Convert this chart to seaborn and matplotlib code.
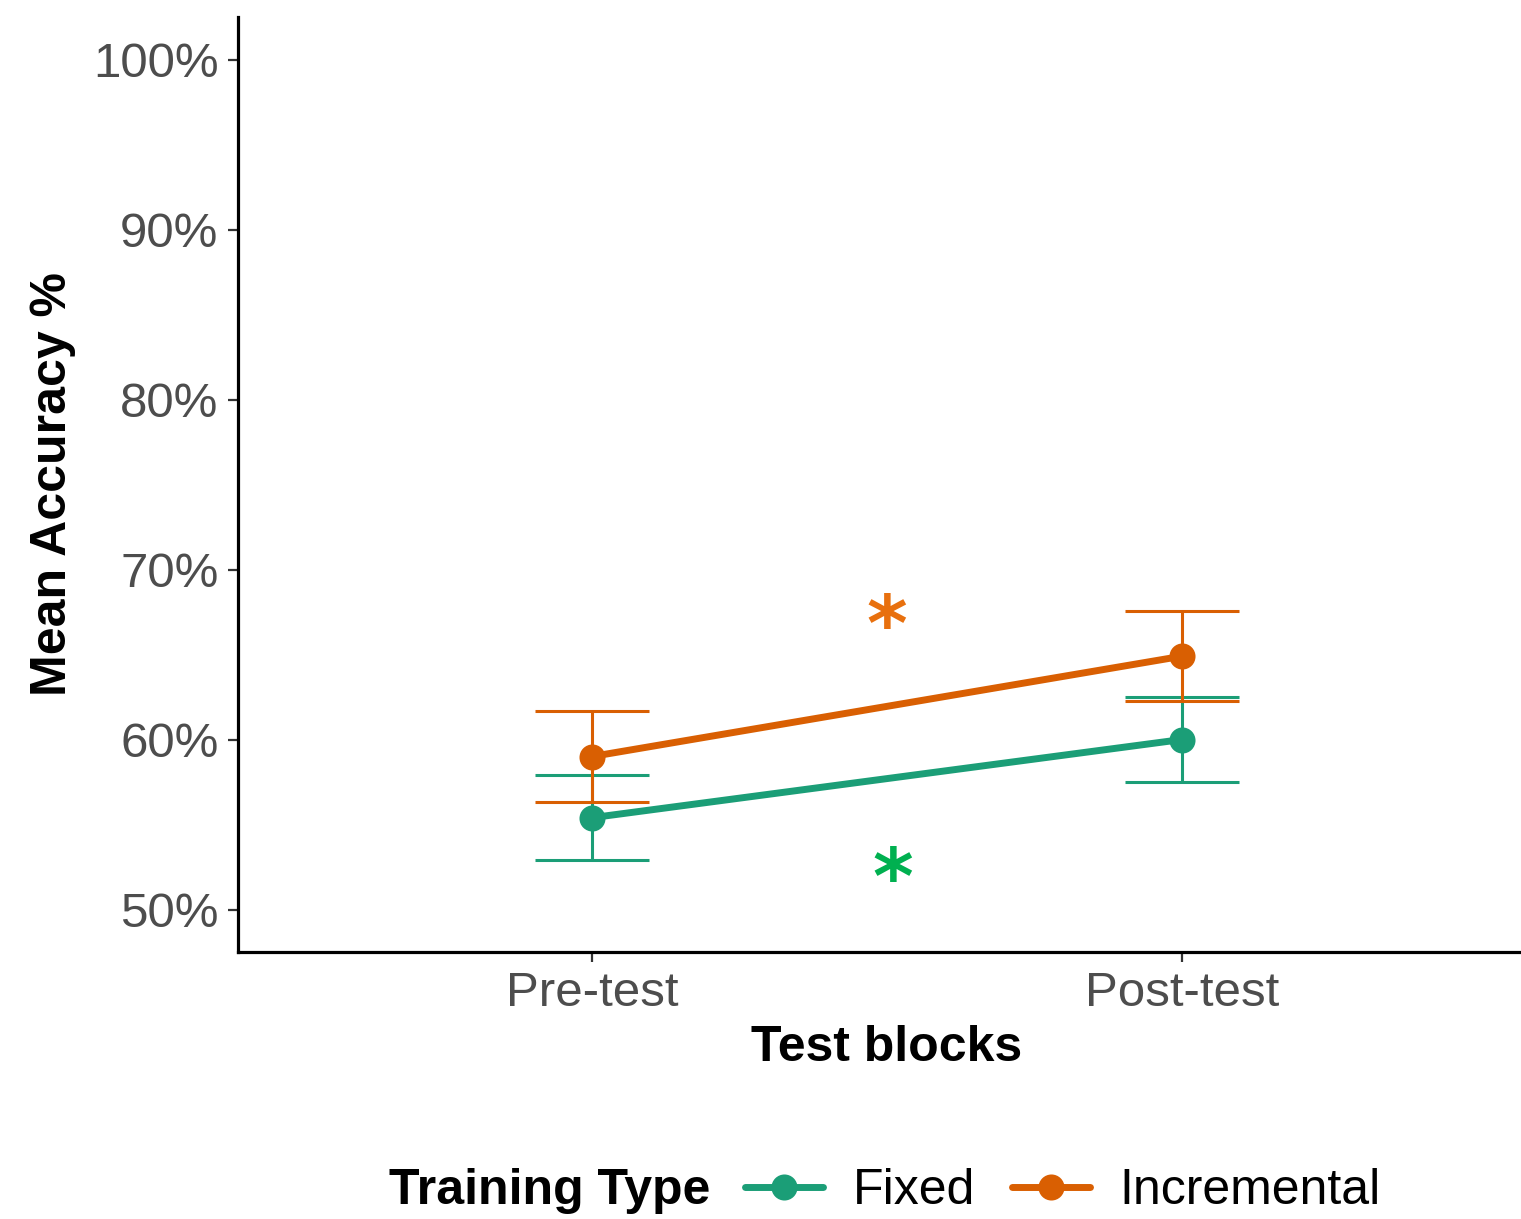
import pandas as pd
import matplotlib.pyplot as plt
import seaborn as sns
from matplotlib.ticker import FuncFormatter

blocks = ["Pre-test", "Post-test"]
training = ["Fixed", "Incremental"]
fixed_mean = [55.4, 60.0]
fixed_se = [2.5, 2.5]
incr_mean = [59.0, 64.9]
incr_se = [2.65, 2.65]
yticks = [50, 60, 70, 80, 90, 100]

df = pd.DataFrame({
    "block": blocks * 2,
    "type": ["Fixed"] * 2 + ["Incremental"] * 2,
    "acc": fixed_mean + incr_mean,
    "se": fixed_se + incr_se,
})

colors = {"Fixed": "#1B9E77", "Incremental": "#D95F02"}

sns.set_theme(style="ticks")
plt.rcParams["font.family"] = ["Liberation Sans", "DejaVu Sans"]

fig = plt.figure(figsize=(15.21, 12.19), dpi=100)
ax = fig.add_axes([238 / 1521, 1 - 952 / 1219, 1298 / 1521, 935 / 1219])

# error bars first, like geom_errorbar under the points
for t in training:
    sub = df[df["type"] == t]
    ax.errorbar(sub["block"], sub["acc"], yerr=sub["se"], fmt="none",
                ecolor=colors[t], elinewidth=2.2, capsize=41, capthick=2.2, zorder=2)

sns.pointplot(data=df, x="block", y="acc", hue="type", order=blocks, hue_order=training,
              palette=colors, errorbar=None, markers="o", linewidth=5, markersize=15,
              ax=ax, zorder=3)

# significance marks
ax.text(0.5, 66.95, "*", color="#E8700E", fontsize=56, family="DejaVu Sans", fontweight="bold",
        ha="center", va="center_baseline")
ax.text(0.51, 52.1, "*", color="#00B050", fontsize=56, family="DejaVu Sans", fontweight="bold",
        ha="center", va="center_baseline")

ax.set_xlim(-0.6, 1.6)
ax.set_ylim(47.5, 102.5)
ax.set_yticks(yticks)
ax.yaxis.set_major_formatter(FuncFormatter(lambda v, p: f"{v:.0f}%"))
sns.despine(ax=ax)
for s in ["left", "bottom"]:
    ax.spines[s].set_linewidth(2.3)
    ax.spines[s].set_color("black")
ax.tick_params(axis="both", labelsize=35.5, labelcolor="#4D4D4D", color="#333333",
               length=7, width=1.6, pad=7)

ax.set_xlabel("Test blocks", fontsize=36, fontweight="bold", color="black", labelpad=6)
ax.set_ylabel("Mean Accuracy %", fontsize=36, fontweight="bold", color="black", labelpad=12)

handles, labels = ax.get_legend_handles_labels()
leg = ax.legend(handles, labels, loc="center left", bbox_to_anchor=(745 / 1521, 1 - 1191 / 1219),
                bbox_transform=fig.transFigure, ncol=2, frameon=False, fontsize=36,
                handlelength=1.55, handletextpad=0.6, columnspacing=0.75, borderpad=0, borderaxespad=0)
for txt in leg.get_texts():
    txt.set_color("black")
fig.text(710 / 1521, 1 - 1191 / 1219, "Training Type", fontsize=36, fontweight="bold",
         color="black", ha="right", va="center")

fig.savefig("out.png", dpi=100, facecolor="white")
